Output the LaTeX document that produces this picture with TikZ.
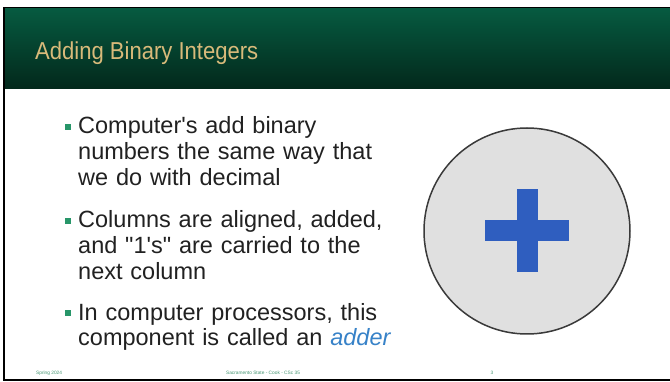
\documentclass[tikz,border=0pt]{standalone}
\usepackage{fontspec}
\setmainfont{Liberation Sans}[Ligatures=TeXOff]
\newfontfamily\titlefont[FakeStretch=0.9]{Liberation Sans}
\usetikzlibrary{positioning}

\definecolor{hdtop}{RGB}{6,90,64}
\definecolor{hdbot}{RGB}{3,40,27}
\definecolor{titletan}{RGB}{216,186,122}
\definecolor{bulletgreen}{RGB}{40,150,105}
\definecolor{footgreen}{RGB}{70,150,115}
\definecolor{linkblue}{RGB}{55,130,200}
\definecolor{plusblue}{RGB}{47,94,191}
\definecolor{discgray}{RGB}{224,224,224}
\definecolor{discedge}{RGB}{58,58,58}

\begin{document}
\begin{tikzpicture}[x=1pt, y=-1pt,
            point/.style={anchor=base west, inner sep=0pt, text width=330pt, align=left, text=black!87, font=\fontsize{23.5}{25.8}\selectfont},
            bulletsq/.style={fill=bulletgreen, minimum size=6pt, inner sep=0pt},
            foot/.style={font=\fontsize{4.8}{5}\selectfont, text=footgreen, inner sep=0pt}
        ]
            \useasboundingbox[fill=white] (0,0) rectangle (670,382);
            % Slide frame and title bar
            \fill[black] (3,7) rectangle (670,9);
            \fill[black] (3,7) rectangle (5,381);
            \fill[black] (3,379) rectangle (670,381);
            \shade[top color=hdtop, bottom color=hdbot] (5,9) rectangle (670,89);
            \node[anchor=base west, inner sep=0pt, text=titletan, font=\titlefont\fontsize{24.5}{28}\selectfont] (title) at (35,60) {Adding Binary Integers};
            % Bullet points
            \node[point] (pt1) at (78,134) {Computer's add binary\\numbers the same way that\\we do with decimal};
            \node[point] (pt2) at (78,228) {Columns are aligned, added,\\and "1's" are carried to the\\next column};
            \node[point] (pt3) at (78,320) {In computer processors, this\\component is called an \textcolor{linkblue}{\textit{adder}}};
            \foreach \y [count=\i] in {127,221,313} {
                \node[bulletsq] (b\i) at (68,\y) {};
            }
            % Adder picture
            \node[draw=discedge, line width=1.5pt, fill=discgray, circle, minimum size=206pt] (disc) at (527,231) {};
            \fill[plusblue] ([shift={(-42,-10.5)}]disc.center) rectangle ([shift={(42,10.5)}]disc.center);
            \fill[plusblue] ([shift={(-10.5,-41.5)}]disc.center) rectangle ([shift={(10.5,41.5)}]disc.center);
            % Footer
            \node[foot, anchor=west] (date) at (36,373) {Spring 2024};
            \node[foot] (course) at (263,373) {Sacramento State - Cook - CSc 35};
            \node[foot] (page) at (492,373) {3};
        \end{tikzpicture}
\end{document}
